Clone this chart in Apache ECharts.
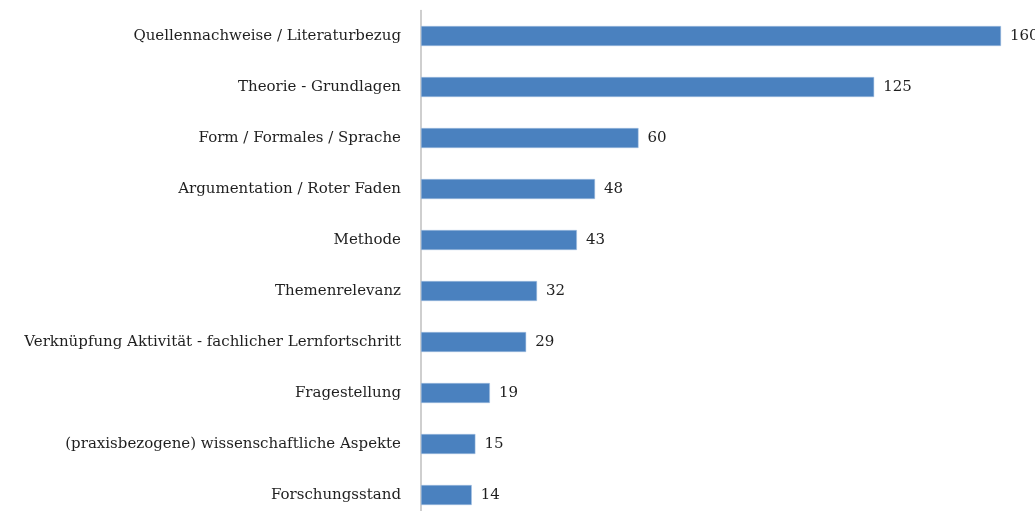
<!DOCTYPE html>
<html>
<head>
<meta charset="utf-8">
<script src="https://cdn.jsdelivr.net/npm/echarts@6/dist/echarts.min.js"></script>
<style>html,body{margin:0;padding:0;background:#fff;}#chart{width:1035px;height:511px;}</style>
</head>
<body>
<div id="chart"></div>
<script>
const categories = [
  "Quellennachweise / Literaturbezug",
  "Theorie - Grundlagen",
  "Form / Formales / Sprache",
  "Argumentation / Roter Faden",
  "Methode",
  "Themenrelevanz",
  "Verknüpfung Aktivität - fachlicher Lernfortschritt",
  "Fragestellung",
  "(praxisbezogene) wissenschaftliche Aspekte",
  "Forschungsstand"
];
const values = [160, 125, 60, 48, 43, 32, 29, 19, 15, 14];

const FONT = "DejaVu Serif";
const chart = echarts.init(document.getElementById('chart'), null, {renderer: 'canvas'});
chart.setOption({
  animation: false,
  grid: {left: 421, top: 10.5, width: 580, height: 510, containLabel: false, outerBoundsMode: 'none'},
  xAxis: {type: 'value', min: 0, max: 160, show: false},
  yAxis: {
    type: 'category', data: categories, inverse: true,
    axisLine: {show: true, lineStyle: {color: '#bfbfbf', width: 1.5}},
    axisTick: {show: false},
    axisLabel: {color: '#1f1f1f', fontFamily: FONT, fontSize: 15, margin: 20}
  },
  series: [{
    type: 'bar', data: values, barWidth: 20,
    itemStyle: {color: '#4a81bf', borderColor: '#a9c4e4', borderWidth: 0.5},
    label: {show: true, position: 'right', distance: 9, color: '#1f1f1f', fontFamily: FONT, fontSize: 15}
  }]
});
</script>
</body>
</html>
